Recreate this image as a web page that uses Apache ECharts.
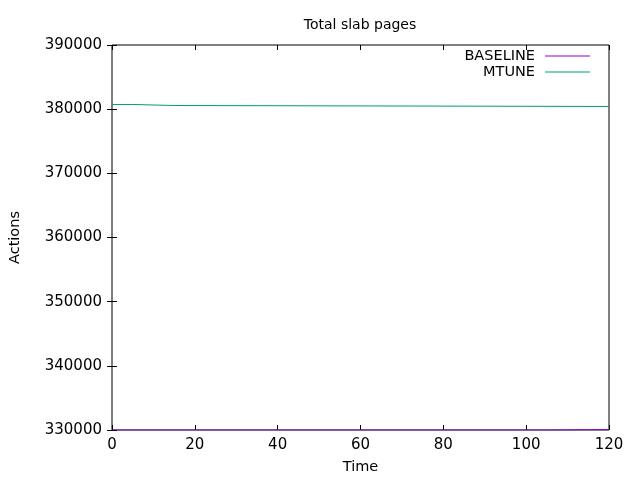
<!DOCTYPE html>
<html><head><meta charset="utf-8">
<script src="https://cdn.jsdelivr.net/npm/echarts@6/dist/echarts.min.js"></script>
<style>html,body{margin:0;padding:0;background:#fff}#c{width:640px;height:480px}</style>
</head><body><div id="c"></div>
<script>
const seriesNames = ['BASELINE', 'MTUNE'];
const baselineTime = [0, 105, 120];
const baselineValues = [330000, 330080, 330080];
const mtuneTime = [0, 5, 15, 120];
const mtuneValues = [380730, 380570, 380420, 380420];
const xTicks = [0, 20, 40, 60, 80, 100, 120];
const yTicks = [330000, 340000, 350000, 360000, 370000, 380000, 390000];

// build step-after (hold value until next sample) point list
function stepData(ts, vs) {
  const out = [];
  for (let i = 0; i < ts.length; i++) {
    if (i > 0) out.push([ts[i], vs[i - 1]]);
    out.push([ts[i], vs[i]]);
  }
  return out;
}

const font = 'DejaVu Sans';
const chart = echarts.init(document.getElementById('c'), null, {renderer: 'canvas'});
const axisCommon = {
  axisLine: {show: false},
  splitLine: {show: false},
  axisTick: {show: true, inside: true, length: 5, lineStyle: {color: '#000'}},
};
chart.setOption({
  animation: false,
  backgroundColor: '#fff',
  title: {text: 'Total slab pages', left: 355, top: 13, textAlign: 'center',
    textStyle: {fontFamily: font, fontSize: 14, fontWeight: 'normal', color: '#000'}},
  legend: {
    orient: 'vertical', right: 50, top: 48, align: 'right', itemGap: 0, padding: 0,
    itemWidth: 45, itemHeight: 1.2, icon: 'rect',
    data: seriesNames,
    textStyle: {fontFamily: font, fontSize: 14.5, color: '#000', width: 80, align: 'right', padding: [0, 5, 0, 0], lineHeight: 16}
  },
  grid: {left: 110, right: 31, top: 45, bottom: 50, show: true, borderColor: '#000', borderWidth: 1},
  xAxis: [
    Object.assign({type: 'value', min: xTicks[0], max: xTicks[xTicks.length-1], interval: 20,
      name: 'Time', nameLocation: 'middle', nameGap: 30,
      nameTextStyle: {fontFamily: font, fontSize: 14.5, color: '#000'},
      axisLabel: {fontFamily: font, fontSize: 15, color: '#000', margin: 8}}, axisCommon),
    Object.assign({type: 'value', position: 'top', min: 0, max: 120, interval: 20,
      axisLabel: {show: false}}, axisCommon)
  ],
  yAxis: [
    Object.assign({type: 'value', min: yTicks[0], max: yTicks[yTicks.length-1], interval: 10000,
      name: 'Actions', nameLocation: 'middle', nameGap: 89, nameRotate: 90,
      nameTextStyle: {fontFamily: font, fontSize: 14.5, color: '#000'},
      axisLabel: {fontFamily: font, fontSize: 15, color: '#000', margin: 10, formatter: v => String(v)}}, axisCommon),
    Object.assign({type: 'value', position: 'right', min: 330000, max: 390000, interval: 10000,
      axisLabel: {show: false}}, axisCommon)
  ],
  series: [
    {name: 'BASELINE', type: 'line', symbol: 'none', color: '#9400d3',
     lineStyle: {width: 1}, data: stepData(baselineTime, baselineValues)},
    {name: 'MTUNE', type: 'line', symbol: 'none', color: '#009e73',
     lineStyle: {width: 1}, data: stepData(mtuneTime, mtuneValues)}
  ]
});
</script></body></html>
